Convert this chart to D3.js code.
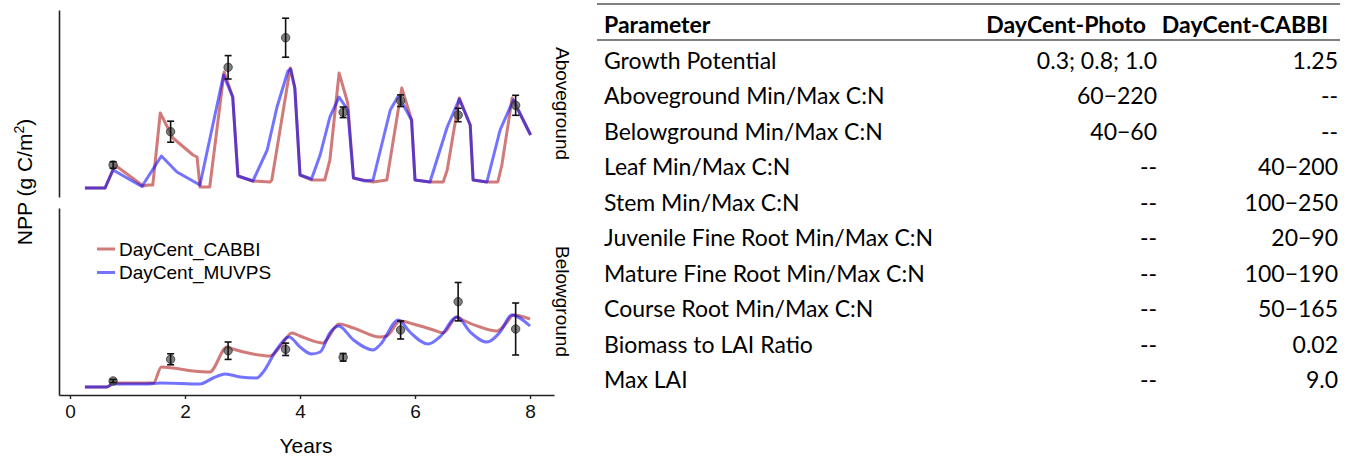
<!DOCTYPE html>
<html>
<head>
<meta charset="utf-8">
<script src="https://cdn.jsdelivr.net/npm/d3@7"></script>
<style>
  body { margin: 0; background: #fff; }
  svg { display: block; }
  .tick text { font-family: "Liberation Sans", Arial, sans-serif; }
</style>
</head>
<body>
<main></main>
<script>
// ---- data (NPP, g C/m2) ----
const aboveCabbiYears = [0.26, 0.61, 0.78, 1.18, 1.27, 1.36, 1.44, 1.57, 1.79, 2.14, 2.21, 2.26, 2.43, 2.68, 2.83, 2.92, 3.18, 3.48, 3.51, 3.83, 3.91, 4.0, 4.21, 4.43, 4.52, 4.68, 4.83, 4.93, 5.27, 5.51, 5.77, 5.94, 6.0, 6.26, 6.49, 6.56, 6.77, 6.96, 7.01, 7.25, 7.44, 7.51, 7.69, 8.01];
const aboveCabbiNpp = [0, 0, 230, 60, 20, 30, 30, 750, 500, 330, 310, 10, 10, 1160, 910, 120, 70, 60, 80, 1200, 1000, 130, 80, 80, 280, 1150, 850, 100, 60, 80, 1000, 680, 80, 60, 60, 180, 900, 630, 80, 60, 60, 230, 900, 530];

const aboveMuvpsYears = [0.26, 0.61, 0.75, 1.25, 1.59, 1.86, 2.26, 2.67, 2.83, 2.92, 3.18, 3.43, 3.6, 3.79, 3.84, 3.91, 4.0, 4.2, 4.35, 4.52, 4.68, 4.83, 4.93, 5.13, 5.27, 5.57, 5.71, 5.94, 6.0, 6.26, 6.56, 6.77, 6.96, 7.01, 7.25, 7.48, 7.71, 8.01];
const aboveMuvpsNpp = [0, 0, 180, 15, 320, 160, 30, 1130, 910, 120, 70, 380, 810, 1170, 1190, 1000, 130, 90, 330, 710, 910, 780, 100, 70, 80, 780, 920, 680, 80, 60, 610, 890, 630, 80, 60, 580, 880, 530];

const belowCabbiYears = [0.26, 0.64, 0.75, 1.45, 1.59, 1.79, 2.14, 2.43, 2.73, 2.83, 3.18, 3.48, 3.65, 3.86, 4.0, 4.41, 4.46, 4.68, 4.93, 5.39, 5.51, 5.74, 5.97, 6.32, 6.49, 6.73, 6.83, 7.13, 7.42, 7.59, 7.71, 8.0];
const belowCabbiNpp = [0, 0, 40, 40, 200, 190, 160, 150, 400, 380, 330, 310, 400, 540, 510, 440, 470, 630, 590, 500, 510, 660, 630, 570, 540, 700, 670, 600, 560, 640, 720, 680];

const belowMuvpsYears = [0.26, 0.64, 0.75, 1.33, 1.57, 2.26, 2.49, 2.7, 2.96, 3.25, 3.36, 3.59, 3.81, 4.0, 4.2, 4.35, 4.52, 4.67, 4.93, 5.27, 5.39, 5.71, 5.91, 6.23, 6.43, 6.73, 6.96, 7.25, 7.48, 7.68, 8.0];
const belowMuvpsNpp = [0, 0, 30, 30, 40, 30, 90, 130, 100, 90, 150, 370, 500, 400, 330, 350, 540, 610, 470, 370, 420, 670, 550, 430, 500, 700, 550, 450, 550, 720, 610];

const obsYears = [0.75, 1.75, 2.75, 3.75, 4.75, 5.75, 6.75, 7.75];
const aboveObs = [230, 563, 1207, 1503, 757, 873, 730, 827];
const aboveObsErr = [33, 105, 117, 195, 53, 58, 67, 100];
const belowObs = [60, 277, 363, 377, 297, 570, 853, 580];
const belowObsErr = [15, 55, 87, 62, 38, 90, 192, 260];

const seriesNames = ["DayCent_CABBI", "DayCent_MUVPS"];
const xTicks = [0, 2, 4, 6, 8];

// ---- table ----
const tableHeader = ["Parameter", "DayCent-Photo", "DayCent-CABBI"];
const params = ["Growth Potential", "Aboveground Min/Max C:N", "Belowground Min/Max C:N", "Leaf Min/Max C:N", "Stem Min/Max C:N", "Juvenile Fine Root Min/Max C:N", "Mature Fine Root Min/Max C:N", "Course Root Min/Max C:N", "Biomass to LAI Ratio", "Max LAI"];
const photoVals = ["0.3; 0.8; 1.0", "60\u2212220", "40\u221260", "--", "--", "--", "--", "--", "--", "--"];
const cabbiVals = ["1.25", "--", "--", "40\u2212200", "100\u2212250", "20\u221290", "100\u2212190", "50\u2212165", "0.02", "9.0"];

const colors = { "DayCent_CABBI": "#b22222", "DayCent_MUVPS": "#0000ff" };
const opac = { "DayCent_CABBI": 0.6, "DayCent_MUVPS": 0.55 };
const chartFont = '"Liberation Sans", Arial, sans-serif';
const tableFont = 'Lato, "Open Sans", sans-serif';

const width = 1352, height = 457;
const svg = d3.select('main').append('svg')
  .attr('width', width).attr('height', height);

const x = d3.scaleLinear().domain([-0.191, 8.417]).range([59, 554]);
const yTop = d3.scaleLinear().domain([-90, 1780]).range([197, 10]);
const yBot = d3.scaleLinear().domain([-80, 1790]).range([395, 208]);

function zip(xs, ys) { return xs.map((d, i) => [d, ys[i]]); }

function draw_panel(y, cabbi, muvps, obs, err, curve, label) {
  const g = svg.append('g');
  // left axis line only
  g.append('g')
    .attr('transform', 'translate(59,0)')
    .call(d3.axisLeft(y).tickValues([]).tickSizeOuter(0))
    .select('.domain').attr('stroke', '#222').attr('stroke-width', 1.6);

  const line = d3.line().x(d => x(d[0])).y(d => y(d[1])).curve(curve);
  [["DayCent_CABBI", cabbi], ["DayCent_MUVPS", muvps]].forEach(function (s) {
    g.append('path')
      .datum(s[1])
      .attr('fill', 'none')
      .attr('stroke', colors[s[0]])
      .attr('stroke-opacity', opac[s[0]])
      .attr('stroke-width', 3)
      .attr('stroke-linejoin', 'round')
      .attr('d', line);
  });

  const pts = g.selectAll('g.obs')
    .data(obsYears.map((d, i) => ({ t: d, v: obs[i], e: err[i] })))
    .enter().append('g').attr('class', 'obs');
  pts.append('circle')
    .attr('cx', d => x(d.t)).attr('cy', d => y(d.v)).attr('r', 4.2)
    .attr('fill', '#555').attr('fill-opacity', 0.75)
    .attr('stroke', '#333').attr('stroke-width', 0.8);
  pts.append('line')
    .attr('x1', d => x(d.t)).attr('x2', d => x(d.t))
    .attr('y1', d => y(d.v - d.e)).attr('y2', d => y(d.v + d.e))
    .attr('stroke', '#111').attr('stroke-width', 1.6);
  pts.selectAll('line.cap')
    .data(d => [d.v - d.e, d.v + d.e].map(v => ({ t: d.t, v: v })))
    .enter().append('line').attr('class', 'cap')
    .attr('x1', d => x(d.t) - 3.5).attr('x2', d => x(d.t) + 3.5)
    .attr('y1', d => y(d.v)).attr('y2', d => y(d.v))
    .attr('stroke', '#111').attr('stroke-width', 1.6);

  const r = y.range();
  g.append('text')
    .attr('transform', 'translate(562,' + ((r[0] + r[1]) / 2) + ') rotate(90)')
    .attr('text-anchor', 'middle')
    .attr('dominant-baseline', 'central')
    .style('font-family', chartFont).style('font-size', '19px')
    .text(label);
}

draw_panel(yTop, zip(aboveCabbiYears, aboveCabbiNpp), zip(aboveMuvpsYears, aboveMuvpsNpp),
  aboveObs, aboveObsErr, d3.curveLinear, 'Aboveground');
draw_panel(yBot, zip(belowCabbiYears, belowCabbiNpp), zip(belowMuvpsYears, belowMuvpsNpp),
  belowObs, belowObsErr, d3.curveMonotoneX, 'Belowground');

// x axis (bottom panel only)
const xa = svg.append('g')
  .attr('transform', 'translate(0,395)')
  .call(d3.axisBottom(x).tickValues(xTicks).tickSizeOuter(0).tickSizeInner(4).tickPadding(6));
xa.select('.domain').attr('stroke', '#222').attr('stroke-width', 1.6);
xa.selectAll('.tick line').attr('stroke', '#222').attr('stroke-width', 1.4);
xa.selectAll('.tick text').style('font-size', '19px').attr('fill', '#111');

svg.append('text')
  .attr('x', 306).attr('y', 453)
  .attr('text-anchor', 'middle')
  .style('font-family', chartFont).style('font-size', '21px')
  .text('Years');

const yl = svg.append('text')
  .attr('transform', 'translate(32,182) rotate(-90)')
  .attr('text-anchor', 'middle')
  .style('font-family', chartFont).style('font-size', '21px');
yl.append('tspan').text('NPP (g C/m');
yl.append('tspan').attr('dy', -8).style('font-size', '14px').text('2');
yl.append('tspan').attr('dy', 8).text(')');

// legend
const leg = svg.append('g').attr('transform', 'translate(97,249)');
leg.selectAll('g').data(seriesNames).enter().append('g')
  .attr('transform', (d, i) => 'translate(0,' + i * 23.5 + ')')
  .each(function (d) {
    const gg = d3.select(this);
    gg.append('line').attr('x1', 0).attr('x2', 18)
      .attr('stroke', colors[d]).attr('stroke-opacity', opac[d]).attr('stroke-width', 3);
    gg.append('text').attr('x', 22).attr('dominant-baseline', 'central')
      .style('font-family', chartFont).style('font-size', '19px').text(d);
  });

// ---- table ----
const tbl = svg.append('g');
const colX = [604, 1146, 1328];
const valX = [604, 1157, 1338];
tbl.append('line').attr('x1', 597).attr('x2', 1340).attr('y1', 4).attr('y2', 4)
  .attr('stroke', '#808080').attr('stroke-width', 2);
tbl.append('line').attr('x1', 597).attr('x2', 1340).attr('y1', 40).attr('y2', 40)
  .attr('stroke', '#808080').attr('stroke-width', 2);

tbl.selectAll('text.hdr').data(tableHeader).enter().append('text')
  .attr('class', 'hdr')
  .attr('x', (d, i) => colX[i]).attr('y', 24)
  .attr('text-anchor', (d, i) => i === 0 ? 'start' : 'end')
  .attr('dominant-baseline', 'central')
  .style('font-family', tableFont).style('font-size', '23px').style('font-weight', 'bold')
  .attr('fill', '#000')
  .text(d => d);

const rowY = d3.scalePoint().domain(params).range([60, 379]);
const rows = tbl.selectAll('g.row').data(params).enter().append('g').attr('class', 'row')
  .attr('transform', d => 'translate(0,' + rowY(d) + ')');
rows.each(function (d, i) {
  const cells = [d, photoVals[i], cabbiVals[i]];
  d3.select(this).selectAll('text').data(cells).enter().append('text')
    .attr('x', (c, j) => valX[j])
    .attr('text-anchor', (c, j) => j === 0 ? 'start' : 'end')
    .attr('dominant-baseline', 'central')
    .style('font-family', tableFont).style('font-size', '23px')
    .attr('fill', '#000')
    .text(c => c);
});
</script>
</body>
</html>
